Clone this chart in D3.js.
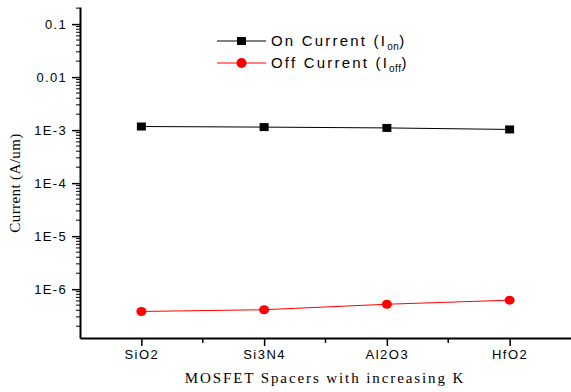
<!DOCTYPE html>
<html>
<head>
<meta charset="utf-8">
<script src="https://cdn.jsdelivr.net/npm/d3@7"></script>
<style>
  body { margin: 0; background: #fff; }
  svg { display: block; }
</style>
</head>
<body>
<svg width="571" height="392"></svg>
<script>
// chart values
var spacers = ["SiO2", "Si3N4", "Al2O3", "HfO2"];
var onCurrent = [1.17e-3, 1.14e-3, 1.10e-3, 1.03e-3];
var offCurrent = [3.8e-7, 4.1e-7, 5.2e-7, 6.2e-7];
var yTicks = [1e-6, 1e-5, 1e-4, 1e-3, 1e-2, 1e-1];
var yTickLabels = ["1E-6", "1E-5", "1E-4", "1E-3", "0.01", "0.1"];

var svg = d3.select("svg");
var plotLeft = 80, plotRight = 571, plotTop = 7, plotBottom = 338;

var x = d3.scaleLinear().domain([0.5, 4.5]).range([plotLeft, plotRight]);
// decade ~53px, 0.1 at y=24
var y = d3.scaleLog().domain([1.2e-7, 0.21]).range([plotBottom, plotTop]);

var sans = "'Liberation Sans', Arial, sans-serif";
var serif = "'Liberation Serif', 'Times New Roman', serif";

// y axis minor ticks
var minor = [];
for (var e = -7; e <= -1; e++) {
    for (var m = 2; m <= 9; m++) {
        var v = m * Math.pow(10, e);
        if (v >= y.domain()[0] && v <= y.domain()[1]) minor.push(v);
    }
}
svg.append("g").selectAll("line").data(minor).enter().append("line")
    .attr("x1", plotLeft - 4).attr("x2", plotLeft)
    .attr("y1", function(d) { return y(d); })
    .attr("y2", function(d) { return y(d); })
    .attr("stroke", "#000").attr("stroke-width", 1);

var yAxis = svg.append("g")
    .attr("transform", "translate(" + plotLeft + ",0)")
    .call(d3.axisLeft(y).tickValues(yTicks)
        .tickFormat(function(d, i) { return yTickLabels[i]; })
        .tickSize(8).tickPadding(5).tickSizeOuter(0));
yAxis.select(".domain").attr("stroke-width", 2);
yAxis.selectAll(".tick line").attr("stroke-width", 1.5);
yAxis.selectAll("text")
    .style("font-family", sans).style("font-size", "13px")
    .style("letter-spacing", "1.3px").attr("fill", "#000");

// x axis minor ticks
svg.append("g").selectAll("line").data([1.5, 2.5, 3.5]).enter().append("line")
    .attr("x1", function(d) { return x(d); })
    .attr("x2", function(d) { return x(d); })
    .attr("y1", plotBottom).attr("y2", plotBottom + 5)
    .attr("stroke", "#000").attr("stroke-width", 1.5);

var xAxis = svg.append("g")
    .attr("transform", "translate(0," + plotBottom + ")")
    .call(d3.axisBottom(x).tickValues([1, 2, 3, 4])
        .tickFormat(function(d) { return spacers[d - 1]; })
        .tickSize(8).tickPadding(4).tickSizeOuter(0));
xAxis.select(".domain").attr("stroke-width", 2);
xAxis.selectAll(".tick line").attr("stroke-width", 1.5);
xAxis.selectAll("text")
    .style("font-family", sans).style("font-size", "13px")
    .style("letter-spacing", "1.5px").attr("fill", "#000");

// lines
var line = d3.line()
    .x(function(d, i) { return x(i + 1); })
    .y(function(d) { return y(d); });

svg.append("path").datum(onCurrent)
    .attr("d", line).attr("fill", "none")
    .attr("stroke", "#000").attr("stroke-width", 1);
svg.append("path").datum(offCurrent)
    .attr("d", line).attr("fill", "none")
    .attr("stroke", "#f00").attr("stroke-width", 1);

svg.append("g").selectAll("rect").data(onCurrent).enter().append("rect")
    .attr("x", function(d, i) { return x(i + 1) - 4.5; })
    .attr("y", function(d) { return y(d) - 4; })
    .attr("width", 9).attr("height", 8)
    .attr("fill", "#000");
svg.append("g").selectAll("ellipse").data(offCurrent).enter().append("ellipse")
    .attr("cx", function(d, i) { return x(i + 1); })
    .attr("cy", function(d) { return y(d); })
    .attr("rx", 5).attr("ry", 4.5)
    .attr("fill", "#f00");

// legend
var legend = svg.append("g");
var legItems = [
    { name: "On Current (I", sub: "on", color: "#000", shape: "rect", y: 41 },
    { name: "Off Current (I", sub: "off", color: "#f00", shape: "circle", y: 63 }
];
legItems.forEach(function(d) {
    legend.append("line")
        .attr("x1", 217).attr("x2", 266).attr("y1", d.y).attr("y2", d.y)
        .attr("stroke", d.color).attr("stroke-width", 1);
    if (d.shape == "rect") {
        legend.append("rect").attr("x", 237).attr("y", d.y - 4)
            .attr("width", 9).attr("height", 8).attr("fill", d.color);
    } else {
        legend.append("ellipse").attr("cx", 241.5).attr("cy", d.y)
            .attr("rx", 5).attr("ry", 5).attr("fill", d.color);
    }
    var t = legend.append("text")
        .attr("x", 271).attr("y", d.y + 5)
        .style("font-family", sans).style("font-size", "15px")
        .style("letter-spacing", "2.2px").attr("fill", "#000");
    t.append("tspan").text(d.name);
    t.append("tspan").attr("dy", 4).style("font-size", "10px")
        .style("letter-spacing", "0.5px").text(d.sub);
    t.append("tspan").attr("dy", -4).text(")");
});

// axis titles
svg.append("text")
    .attr("transform", "translate(20,183) rotate(-90)")
    .attr("text-anchor", "middle")
    .style("font-family", serif).style("font-size", "15px")
    .style("letter-spacing", "0.4px")
    .text("Current (A/um)");

svg.append("text")
    .attr("x", 325).attr("y", 383)
    .attr("text-anchor", "middle")
    .style("font-family", serif).style("font-size", "15px")
    .style("letter-spacing", "1.9px")
    .text("MOSFET Spacers with increasing K");
</script>
</body>
</html>
